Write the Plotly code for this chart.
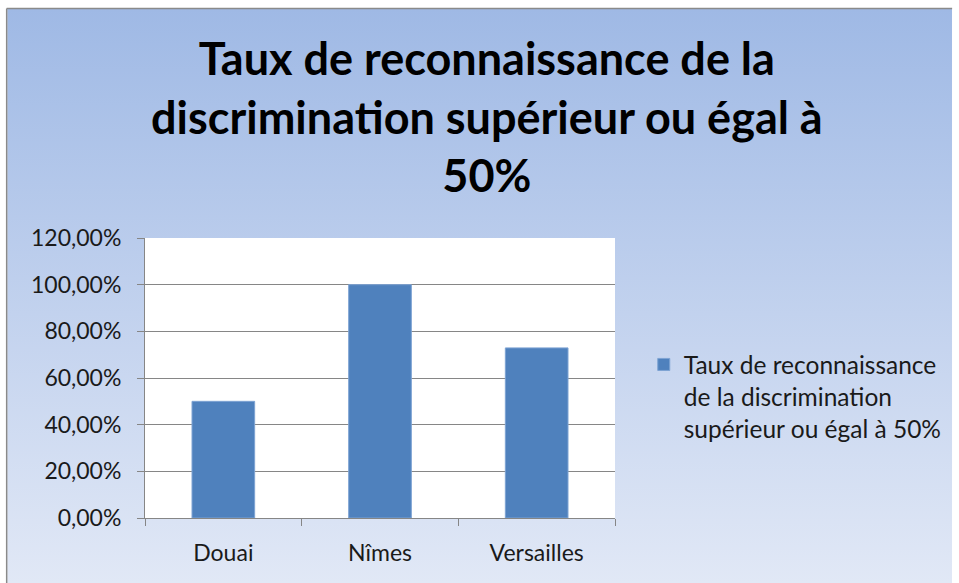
import base64
import plotly.graph_objects as go

categories = ["Douai", "Nîmes", "Versailles"]
values = [0.50, 1.00, 0.729]
series_name = "Taux de reconnaissance<br>de la discrimination<br>supérieur ou égal à 50%"
title_text = "Taux de reconnaissance de la<br>discrimination supérieur ou égal à<br>50%"

W, H = 959, 583
L, R, T, B = 145, 340, 238, 65
pw, ph = W - L - R, H - T - B

def px_x(p):
    return (p - L) / pw

def px_y(p):
    return (H - B - p) / ph

svg = (
    '<svg xmlns="http://www.w3.org/2000/svg" width="100" height="100" preserveAspectRatio="none">'
    '<defs><linearGradient id="g" x1="0" y1="0" x2="0" y2="1">'
    '<stop offset="0" stop-color="#9fb9e5"/><stop offset="1" stop-color="#e1e8f6"/>'
    '</linearGradient></defs><rect width="100" height="100" fill="url(#g)"/></svg>'
)
src = "data:image/svg+xml;base64," + base64.b64encode(svg.encode()).decode()

fig = go.Figure()
fig.add_trace(go.Bar(
    x=categories, y=values, name=series_name,
    marker=dict(color="#4f81bd", line=dict(color="#7ea3d3", width=1)),
    showlegend=True,
))

fig.update_layout(
    width=W, height=H,
    margin=dict(l=L, r=R, t=T, b=B, pad=0),
    paper_bgcolor="white",
    plot_bgcolor="white",
    separators=", ",
    bargap=0.6,
    font=dict(family="Lato, Calibri, sans-serif", color="#000000", size=23),
    images=[dict(
        source=src, xref="paper", yref="paper",
        x=px_x(6), y=px_y(9), sizex=(W - 6) / pw, sizey=(H - 9) / ph,
        xanchor="left", yanchor="top", sizing="stretch", layer="below",
    )],
    shapes=[
        dict(type="rect", xref="paper", yref="paper", x0=0, x1=1, y0=0, y1=1,
             fillcolor="white", line=dict(width=0), layer="below"),
        dict(type="line", xref="paper", yref="paper",
             x0=px_x(5.5), y0=px_y(8.5), x1=px_x(W), y1=px_y(8.5),
             line=dict(color="#8a8a8a", width=1.5)),
        dict(type="line", xref="paper", yref="paper",
             x0=px_x(5.5), y0=px_y(8.5), x1=px_x(5.5), y1=px_y(H),
             line=dict(color="#8a8a8a", width=1.5)),
    ],
    annotations=[dict(
        text="<b>" + title_text + "</b>", xref="paper", yref="paper",
        x=px_x(490), y=px_y(29), xanchor="center", yanchor="top",
        showarrow=False, align="center",
        font=dict(size=45, family="Lato, Calibri, sans-serif", color="#000000"),
    )],
    legend=dict(
        x=px_x(648), y=px_y(342), xanchor="left", yanchor="top",
        bgcolor="rgba(0,0,0,0)", valign="top", itemwidth=30,
        font=dict(size=24.5, color="#1a1a1a"), tracegroupgap=0,
    ),
    xaxis=dict(
        showline=True, linecolor="#868686", linewidth=1,
        ticks="outside", tickson="boundaries", ticklen=7, tickcolor="#868686",
        tickfont=dict(size=23, color="#1a1a1a"), ticklabelstandoff=14,
        showgrid=False,
    ),
    yaxis=dict(
        range=[0, 1.2], dtick=0.2, tickformat=".2%",
        showline=True, linecolor="#868686", linewidth=1,
        ticks="outside", ticklen=7, tickcolor="#868686",
        showgrid=True, gridcolor="#868686", gridwidth=1, zeroline=False,
        tickfont=dict(size=23, color="#1a1a1a"), ticklabelstandoff=11,
    ),
)

fig.write_html(
    "out.html",
    config={"displayModeBar": False},
    post_script=(
        "document.documentElement.style.overflow='hidden';"
        "document.body.style.margin='0';document.body.style.overflow='hidden';"
    ),
)
